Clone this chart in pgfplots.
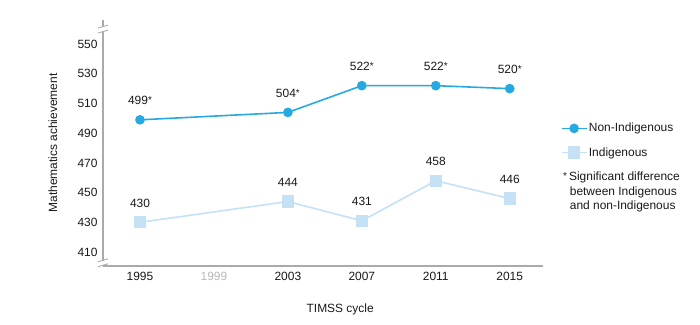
\documentclass[border=0pt]{standalone}
\usepackage{pgfplots}
\pgfplotsset{compat=1.18}
\usepackage{fontspec}
\setmainfont{Liberation Sans}
\definecolor{nonind}{RGB}{38,169,224}
\definecolor{ind}{RGB}{196,225,246}
\definecolor{axisgray}{RGB}{170,170,170}
\definecolor{txt}{RGB}{25,25,25}
\newcommand\sig{\raisebox{1.2bp}{\fontsize{10}{10}\selectfont*}}
\begin{document}
\begin{tikzpicture}[x=1bp,y=1bp]
\path[use as bounding box] (0,0) rectangle (700,324);
\begin{axis}[
  at={(103bp,58bp)}, anchor=south west,
  scale only axis, width=440bp, height=246bp,
  xmin=1993, xmax=2016.8, ymin=400.6, ymax=566.2,
  axis x line*=bottom, axis y line*=left,
  axis line style={axisgray, line width=1.1pt, -},
  xtick={1995,1999,2003,2007,2011,2015},
  xticklabels={1995,\textcolor{gray!55}{1999},2003,2007,2011,2015},
  ytick={410,430,...,550},
  major tick length=0pt,
  tick label style={font=\fontsize{12}{14}\selectfont, text=txt},
  /pgf/number format/assume math mode=true,
  /pgf/number format/1000 sep={},
  xticklabel style={yshift=-3bp},
  yticklabel style={xshift=-2bp},
  xlabel={TIMSS cycle},
  ylabel={Mathematics achievement},
  every axis x label/.style={at={(axis description cs:0.539,-0.175)}, anchor=center, font=\fontsize{12}{14}\selectfont, text=txt},
  every axis y label/.style={at={(axis description cs:-0.114,0.5)}, rotate=90, anchor=center, font=\fontsize{12}{14}\selectfont, text=txt},
  clip=false,
  legend style={at={(1.04,0.587)}, anchor=north west, draw=none, fill=none,
    font=\fontsize{12}{14}\selectfont, text=txt, row sep=11bp, inner sep=0pt,
    nodes={inner sep=1.5bp}},
  legend cell align=left,
  legend image code/.code={
    \draw[mark repeat=2,mark phase=2] plot coordinates {(0bp,0bp) (12.5bp,0bp) (25bp,0bp)};
  },
  nodes near coords,
  point meta=explicit symbolic,
  every node near coord/.append style={font=\fontsize{12}{14}\selectfont, text=txt, anchor=center, yshift=19bp},
]
\addplot[color=nonind, line width=1.6pt, mark=*, mark size=4bp, mark options={solid, fill=nonind, draw=nonind}]
  table[meta=label] {
x y label
1995 499 499\sig
2003 504 504\sig
2007 522 522\sig
2011 522 522\sig
2015 520 520\sig
};
\addlegendentry{Non-Indigenous}
\addplot[color=ind, line width=1.6pt, mark=square*, mark size=5.3bp, mark options={solid, fill=ind, draw=ind}]
  table[meta=label] {
x y label
1995 430 430
2003 444 444
2007 431 431
2011 458 458
2015 446 446
};
\addlegendentry{Indigenous}
\coordinate (tb) at (rel axis cs:0,0.963);
\coordinate (bb) at (rel axis cs:0,0.013);
\end{axis}
\foreach \p in {tb,bb}{
  \fill[white] ([xshift=-3bp,yshift=-2bp]\p) rectangle ([xshift=3bp,yshift=2bp]\p);
  \draw[axisgray, line width=0.9pt] ([xshift=-5bp,yshift=-4bp]\p) -- ([xshift=5bp,yshift=-1bp]\p);
  \draw[axisgray, line width=0.9pt] ([xshift=-5bp,yshift=1bp]\p) -- ([xshift=5bp,yshift=4bp]\p);
}
\node[anchor=north west, align=left, inner sep=0pt, text=txt,
  font=\fontsize{12}{14.5}\selectfont] at (563,324-172)
  {\sig\,Significant difference\\\hphantom{*\,}between Indigenous\\\hphantom{*\,}and non-Indigenous};
\end{tikzpicture}
\end{document}
